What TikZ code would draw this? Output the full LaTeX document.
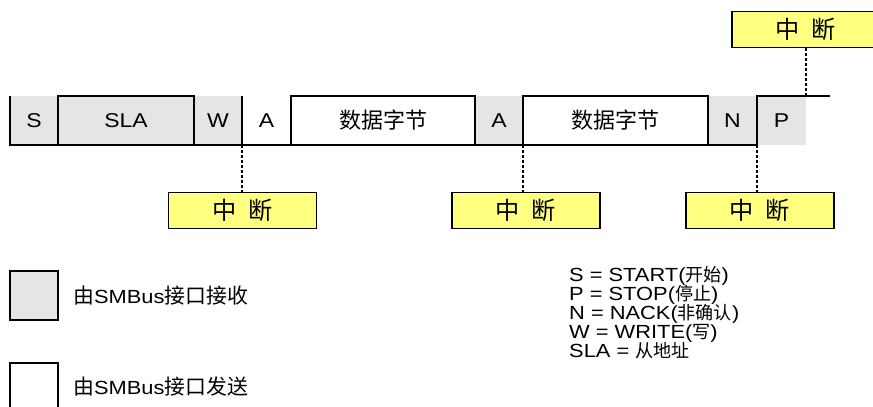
\documentclass[tikz,border=0pt]{standalone}
\usepackage{fontspec}
\setmainfont{Liberation Sans}[FakeStretch=1.15]
\newfontfamily\cjk{Noto Sans CJK SC}[Scale=1.1]
\newfontfamily\cjks{Noto Sans CJK SC}[Scale=0.95]
\usetikzlibrary{positioning}
\definecolor{rxgray}{HTML}{E5E5E5}
\definecolor{intyellow}{HTML}{FFFF80}
\tikzset{
  field/.style={rectangle, inner sep=0pt, outer sep=0pt, minimum height=49pt,
    font=\fontsize{20}{22}\selectfont},
  frame/.style={line width=2pt},
  intbox/.style={draw, line width=1.6pt, fill=intyellow, minimum width=148pt,
    minimum height=36pt, inner sep=0pt, font=\fontsize{22}{24}\selectfont},
  tap/.style={dash pattern=on 3pt off 2pt, line width=1.2pt},
  legend/.style={anchor=west, inner sep=0pt, font=\fontsize{19}{21}\selectfont},
  abbrline/.style={legend, font=\fontsize{19}{19}\selectfont, text height=13pt, text depth=3.5pt}
}

\begin{document}
\begin{tikzpicture}[x=1pt, y=-1pt]
  \useasboundingbox (0,0) rectangle (873,407);
  % Frame fields, left to right
  \node[field, fill=rxgray, minimum width=48pt] (s) at (34,120.5) {S};
  \node[field, fill=rxgray, minimum width=136pt, right=0pt of s] (sla) {SLA};
  \node[field, fill=rxgray, minimum width=48pt, right=0pt of sla] (w) {W};
  \node[field, minimum width=49pt, right=0pt of w] (a1) {A};
  \node[field, minimum width=184pt, right=0pt of a1] (d1) {\cjk 数据字节};
  \node[field, fill=rxgray, minimum width=48pt, right=0pt of d1] (a2) {A};
  \node[field, minimum width=185pt, right=0pt of a2] (d2) {\cjk 数据字节};
  \node[field, fill=rxgray, minimum width=49pt, right=0pt of d2] (n) {N};
  \node[field, fill=rxgray, minimum width=49pt, right=0pt of n] (p) {P};
  \coordinate (bus) at (830,96);
  % Frame outline
  \draw[frame] (s.north west) -- (s.south west) -- (n.south east);
  \draw[frame] (sla.south west) -- (sla.north west) -- (sla.north east) -- (sla.south east);
  \draw[frame] (a1.north west) -- (a1.south west);
  \draw[frame] (d1.south west) rectangle (d1.north east);
  \draw[frame] (d2.south west) rectangle (d2.north east);
  \draw[frame] (p.south west) -- (p.north west) -- (bus);
  % Interrupt points
  \node[intbox] (i1) at (242.5,210.5) {\cjk 中\hspace{12pt}断};
  \node[intbox] (i2) at (526,210.5) {\cjk 中\hspace{12pt}断};
  \node[intbox] (i3) at (760,210.5) {\cjk 中\hspace{12pt}断};
  \node[intbox] (i0) at (806,29.5) {\cjk 中\hspace{12pt}断};
  \draw[tap] (a1.south west) -- (a1.south west |- i1.north);
  \draw[tap] (a2.south east) -- (a2.south east |- i2.north);
  \draw[tap] (p.south west) -- (p.south west |- i3.north);
  \draw[tap, line width=2pt] (p.north east) -- (p.north east |- i0.south);
  % Legend: shading
  \node[field, draw, line width=2pt, fill=rxgray, minimum width=48pt] (krx) at (34,295.5) {};
  \node[legend, right=15pt of krx] (trx) {{\cjk 由}SMBus{\cjk 接口接收}};
  \node[field, minimum width=48pt, minimum height=48pt] (ktx) at (34,387) {};
  \draw[frame] (ktx.south west) -- (ktx.north west) -- (ktx.north east) -- (ktx.south east);
  \node[legend, right=15pt of ktx] (ttx) {{\cjk 由}SMBus{\cjk 接口发送}};
  % Legend: abbreviations
  \foreach \txt [count=\k from 0] in {{S = START({\cjks 开始})}, {P = STOP({\cjks 停止})},
      {N = NACK({\cjks 非确认})}, {W = WRITE({\cjks 写})}, {SLA = {\cjks 从地址}}}
    \node[abbrline] (abbr\k) at (569,277+19*\k) {\txt};
\end{tikzpicture}
\end{document}
